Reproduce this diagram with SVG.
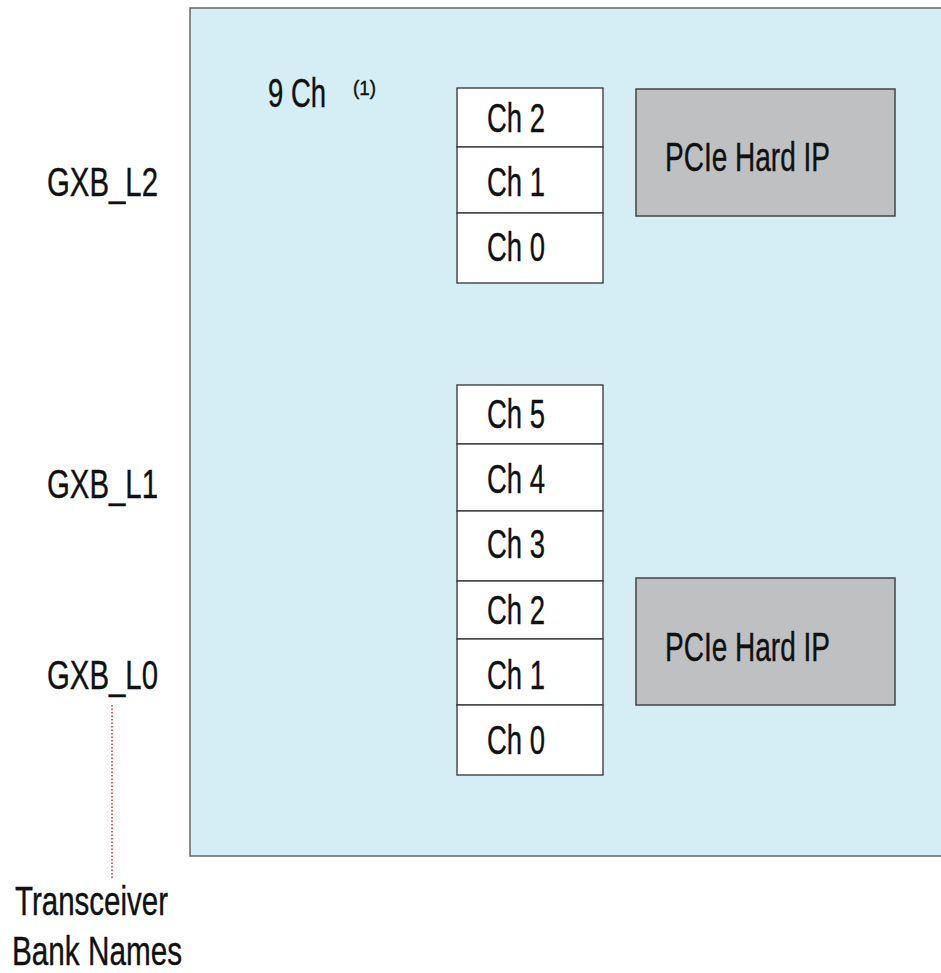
<svg xmlns="http://www.w3.org/2000/svg" width="941" height="973" viewBox="0 0 941 973">
<style>
text{font-family:"Liberation Sans",Arial,sans-serif;fill:#111;stroke:#111;stroke-width:0.4;}
.lbl{font-size:40px;}
.ch{fill:#fff;stroke:#333;stroke-width:1.3;}
.ip{fill:#bfc0c2;stroke:#444;stroke-width:1.5;}
</style>
<rect width="941" height="973" fill="#fff"/>
<g id="device">
<rect x="190" y="8" width="760" height="848" fill="#d5edf5" stroke="#666" stroke-width="1.5"/>
<text class="lbl" x="268" y="107" textLength="58" lengthAdjust="spacingAndGlyphs">9 Ch</text>
<text x="353" y="95" font-size="20" stroke-width="0.2" textLength="23" lengthAdjust="spacingAndGlyphs">(1)</text>
</g>
<g id="bank-labels">
<text class="lbl" x="47" y="196" textLength="111" lengthAdjust="spacingAndGlyphs">GXB_L2</text>
<text class="lbl" x="47" y="498" textLength="111" lengthAdjust="spacingAndGlyphs">GXB_L1</text>
<text class="lbl" x="47" y="689" textLength="111" lengthAdjust="spacingAndGlyphs">GXB_L0</text>
<text class="lbl" x="15" y="915" textLength="153" lengthAdjust="spacingAndGlyphs">Transceiver</text>
<text class="lbl" x="12" y="965" textLength="170" lengthAdjust="spacingAndGlyphs">Bank Names</text>
</g>
<g id="connectors">
<line x1="112" y1="705" x2="112" y2="879" stroke="#e8202a" stroke-width="1.5" stroke-dasharray="1.5,2"/>
</g>
<g id="top-channels">
<rect class="ch" x="457" y="88" width="146" height="59"/>
<rect class="ch" x="457" y="147" width="146" height="66"/>
<rect class="ch" x="457" y="213" width="146" height="70"/>
<text class="lbl" x="487" y="132" textLength="58" lengthAdjust="spacingAndGlyphs">Ch 2</text>
<text class="lbl" x="487" y="196" textLength="58" lengthAdjust="spacingAndGlyphs">Ch 1</text>
<text class="lbl" x="487" y="261" textLength="58" lengthAdjust="spacingAndGlyphs">Ch 0</text>
</g>
<g id="bottom-channels">
<rect class="ch" x="457" y="385" width="146" height="59"/>
<rect class="ch" x="457" y="444" width="146" height="67"/>
<rect class="ch" x="457" y="511" width="146" height="70"/>
<rect class="ch" x="457" y="581" width="146" height="58"/>
<rect class="ch" x="457" y="639" width="146" height="66"/>
<rect class="ch" x="457" y="705" width="146" height="70"/>
<text class="lbl" x="487" y="428" textLength="58" lengthAdjust="spacingAndGlyphs">Ch 5</text>
<text class="lbl" x="487" y="493" textLength="58" lengthAdjust="spacingAndGlyphs">Ch 4</text>
<text class="lbl" x="487" y="558" textLength="58" lengthAdjust="spacingAndGlyphs">Ch 3</text>
<text class="lbl" x="487" y="624" textLength="58" lengthAdjust="spacingAndGlyphs">Ch 2</text>
<text class="lbl" x="487" y="689" textLength="58" lengthAdjust="spacingAndGlyphs">Ch 1</text>
<text class="lbl" x="487" y="754" textLength="58" lengthAdjust="spacingAndGlyphs">Ch 0</text>
</g>
<g id="pcie-top">
<rect class="ip" x="636" y="89" width="259" height="127"/>
<text class="lbl" x="665" y="171" textLength="165" lengthAdjust="spacingAndGlyphs">PCIe Hard IP</text>
</g>
<g id="pcie-bottom">
<rect class="ip" x="636" y="578" width="259" height="127"/>
<text class="lbl" x="665" y="661" textLength="165" lengthAdjust="spacingAndGlyphs">PCIe Hard IP</text>
</g>
</svg>
